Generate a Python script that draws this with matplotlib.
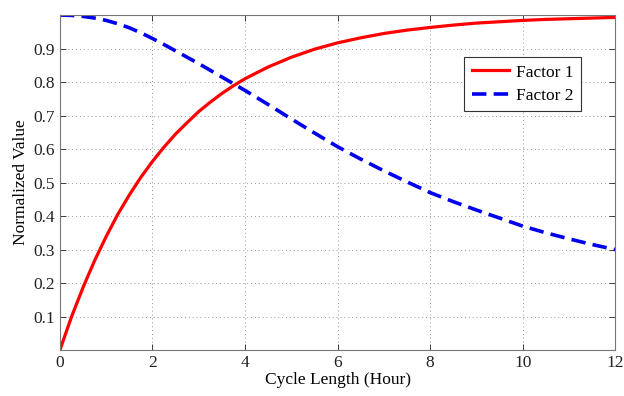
import matplotlib
matplotlib.use("Agg")
import matplotlib.pyplot as plt

# cycle length in hours and the two normalized factors
hours = [0, 0.25, 0.5, 0.75, 1, 1.25, 1.5, 1.75, 2, 2.25, 2.5, 2.75, 3,
         3.25, 3.5, 3.75, 4, 4.5, 5, 5.5, 6, 6.5, 7, 7.5, 8, 8.5, 9,
         9.5, 10, 10.5, 11, 11.5, 12]
factor1 = [0.0, 0.099, 0.187, 0.267, 0.339, 0.405, 0.463, 0.516, 0.563,
           0.606, 0.645, 0.679, 0.712, 0.740, 0.766, 0.789, 0.810,
           0.845, 0.874, 0.898, 0.917, 0.932, 0.945, 0.955, 0.963,
           0.970, 0.976, 0.980, 0.984, 0.987, 0.989, 0.991, 0.993]
factor2 = [1.0, 0.999, 0.996, 0.991, 0.984, 0.974, 0.962, 0.947, 0.930,
           0.912, 0.893, 0.874, 0.855, 0.835, 0.815, 0.795, 0.775,
           0.733, 0.690, 0.648, 0.607, 0.570, 0.535, 0.502, 0.470,
           0.443, 0.418, 0.394, 0.370, 0.350, 0.332, 0.315, 0.300]
x_ticks = [0, 2, 4, 6, 8, 10, 12]
y_ticks = [0.1, 0.2, 0.3, 0.4, 0.5, 0.6, 0.7, 0.8, 0.9]

plt.rcParams["font.family"] = ["Liberation Serif", "DejaVu Serif"]

fig = plt.figure(figsize=(6.24, 3.96), dpi=100)
ax = fig.add_axes([0.096, 0.116, 0.89, 0.846])

ax.plot(hours, factor1, color="#ff0000", lw=2.3, label="Factor 1")
ax.plot(hours, factor2, color="#0000ee", lw=2.6, ls=(0, (4, 2)), label="Factor 2")

ax.set_xlim(0, 12)
ax.set_ylim(0, 1)
ax.set_xticks(x_ticks)
ax.set_yticks(y_ticks)
ax.set_yticklabels([f"{v:.1f}" for v in y_ticks])
ax.tick_params(direction="in", top=True, right=True, labelsize=12.5,
               length=4, width=0.6, colors="#222222")
ax.grid(True, ls=(0, (1, 3)), color="#999999", lw=0.7)
for s in ax.spines.values():
    s.set_color("#777777")
    s.set_linewidth(0.8)

ax.set_xlabel("Cycle Length (Hour)", fontsize=12.5, labelpad=1)
ax.set_ylabel("Normalized Value", fontsize=12.5, labelpad=3)

# legend box sits inside the upper right, below the red curve
leg = ax.legend(loc="upper right", bbox_to_anchor=(0.938, 0.876), borderaxespad=0,
                fontsize=12.5, fancybox=False, framealpha=1, edgecolor="#333333",
                handlelength=2.1, borderpad=0.45, labelspacing=0.4,
                handletextpad=0.4)
leg.get_frame().set_linewidth(0.8)

fig.savefig("out.png", dpi=100)
